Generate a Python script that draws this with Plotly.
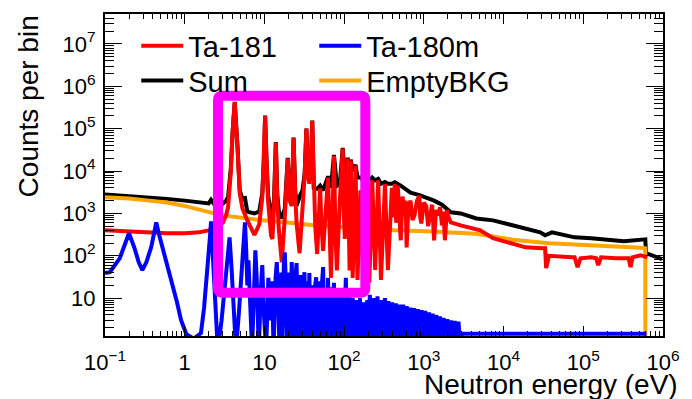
import plotly.graph_objects as go

# ---------------- data ----------------
ta181_e = [0.1, 0.2, 0.36, 0.6, 1.0, 1.5, 2.0, 2.6, 3.0, 3.3, 3.5, 3.78, 4.0, 4.24, 4.6, 4.9, 5.3, 6.1, 7.5,
           8.6, 9.4, 9.9, 10.2, 10.6, 11.1, 12.1, 12.6, 13.2, 13.9, 14.5, 15.2, 16.5, 18, 19.6, 20.7, 22, 23.2,
           24.3, 25.3, 27.6, 30, 32, 33.6, 35, 36.6, 38.5, 39.8, 41.5, 43.4, 45.9, 50, 52, 54.5, 58, 62.8, 66,
           68.4, 71, 74.5, 78, 81.1, 88.3, 96, 99, 102, 111, 117, 121, 124, 128, 139, 147, 160, 174, 190, 207,
           225, 245, 267, 290, 325, 354, 397, 420, 432, 450, 471, 490, 513, 540, 574, 590, 608, 640, 681, 720,
           763, 820, 879, 900, 930, 1000, 1072, 1130, 1200, 1270, 1345, 1420, 1507, 1600, 1688, 1760, 1838,
           1945, 2050, 2180, 2893, 5110, 7380, 11960, 18850, 30500, 33200, 34200, 37200, 71500,
           77800, 84800, 92300, 126000, 145000, 154000, 167000, 256000, 370000, 392000, 415000, 521000, 635000]
ta181_c = [400, 370, 350, 338, 340, 357, 398, 480, 600, 900, 1400, 9000, 90000, 420000, 35000, 3000, 1300, 680, 310,
           550, 2400, 20000, 200000, 20000, 2000, 300, 250, 1500, 47000, 2000, 400, 70, 800, 19700, 2000, 1500, 61000,
           3000, 600, 115, 900, 8000, 100000, 8000, 5000, 20000, 154000, 3000, 500, 110, 3900, 500, 130, 800, 7000, 300,
           30, 500, 23000, 300, 45, 2000, 34000, 1000, 250, 19700, 45, 17700, 300, 30, 13500, 27, 3500, 27, 7800, 23,
           6000, 46, 6000, 27, 5000, 46, 4000, 800, 5000, 600, 4500, 1200, 232, 2500, 900, 2000, 158, 1500, 2000, 700,
           900, 2000, 2600, 800, 580, 1800, 1500, 500, 900, 1600, 232, 1200, 900, 1400, 520, 1100, 232,
           1200, 800, 614, 520, 398, 260, 197, 158, 150, 150, 51, 100, 92,
           92, 54, 87, 92, 87, 60, 92, 87, 87, 54, 92, 103, 92]

ta180m_e = [0.1, 0.115, 0.153, 0.175, 0.2, 0.235, 0.265, 0.294, 0.33, 0.38, 0.42, 0.44, 0.47, 0.52, 0.58, 0.7, 0.8,
            0.9, 1.05, 1.3, 1.6, 1.75, 1.9, 2.0, 2.08, 2.14, 2.2, 2.3, 2.45, 2.6, 2.9, 3.2, 3.45, 3.65, 3.85, 4.1,
            4.4, 4.8, 5.2, 5.5, 5.7, 5.9, 6.1, 6.3, 6.6, 7.0, 7.5, 7.7, 8.0, 8.5, 9.0, 9.4, 9.8, 10.5, 11.2, 11.8,
            12.5, 13, 13.8, 14.3, 14.8, 15.5, 16.3, 16.8, 17.5, 18, 18.6, 19.4, 20.3, 21, 22, 22.8, 23.6, 24.5,
            25.3, 26.2, 27.2, 28.5, 29.5, 30.8, 31.8, 33, 34.5, 35.5, 36.6, 38, 39.5, 41, 42.5, 44.6, 46.5, 48.5,
            50.5, 52.5, 54.5, 56.5, 58.5, 60.5, 62.8, 65, 67.5, 70, 72.5, 74.5, 77, 80, 83, 87, 91, 95, 99, 105,
            110, 116, 122, 128, 135, 142, 150, 158, 166, 175, 185, 195,
            200, 210, 222, 235, 248, 262, 277, 292, 308, 325, 342, 360, 380, 400, 422, 445, 470, 495, 522, 550,
            580, 610, 645, 680, 717, 755, 797, 840, 887, 935, 987, 1040, 1100, 1160, 1225, 1290, 1360, 1430,
            1510, 1590, 1680, 1770, 1870, 1970, 2080, 2190, 2310, 2440, 2580, 2720, 2870, 3000, 620000]
ta180m_c = [39, 41, 87, 180, 340, 150, 70, 46, 70, 160, 400, 610, 350, 170, 92, 25, 8,
            3, 1.4, 1.1, 1.5, 6, 30, 100, 300, 650, 200, 25, 3, 0.6, 3, 20, 80, 270, 60, 5,
            0.6, 5, 60, 300, 614, 150, 20, 78, 10, 0.6, 30, 135, 30, 0.6, 15, 60, 5, 0.6, 30, 3,
            25, 0.6, 30, 71, 10, 0.6, 40, 0.6, 60, 120, 20, 0.6, 40, 0.6, 71, 3, 0.6, 30,
            67, 3, 0.6, 35, 0.6, 20, 41, 0.6, 25, 0.6, 39, 0.6, 20, 0.6, 15, 31, 0.6, 25,
            0.6, 20, 54, 0.6, 15, 0.6, 30, 0.6, 18, 0.6, 15, 23, 0.6, 12, 0.6, 15, 0.6, 12, 0.6, 30,
            0.6, 12, 0.6, 10, 0.6, 9, 0.6, 10, 0.6, 8, 0.6, 9,
            0.6, 12, 0.6, 10, 0.6, 11, 0.6, 9, 0.6, 10, 0.6, 8.5, 0.6, 8, 0.6, 7.5, 0.6, 7, 0.6, 7,
            0.6, 6.5, 0.6, 6, 0.6, 5.8, 0.6, 5.5, 0.6, 5.2, 0.6, 5, 0.6, 4.6, 0.6, 4.3, 0.6, 4,
            0.6, 3.7, 0.6, 3.4, 0.6, 3.2, 0.6, 3, 0.6, 2.9, 0.6, 2.8, 0.6, 1.45, 1.45]

sum_e = [0.1, 0.2, 0.36, 0.6, 1.0, 1.48, 2.0, 2.14, 2.4, 2.8, 3.3, 3.5, 3.78, 4.0, 4.24, 4.6, 4.9, 5.3, 5.7, 6.1,
         7.5, 8.6, 9.4, 9.9, 10.2, 10.6, 11.1, 12.1, 12.6, 13.2, 13.9, 14.5, 15.2, 16.5, 18, 19.6, 20.7, 22, 23.2,
         24.3, 25.3, 27.6, 30, 32, 33.6, 35, 36.6, 38.5, 39.8, 41.5, 43.4, 45.9, 50, 54.5, 62.8, 68.4, 74.5, 81.1,
         88.3, 96, 102, 111, 117, 121, 128, 139, 147, 160, 174, 190, 207, 225, 245, 267, 290, 325, 354, 397, 432,
         513, 608, 681, 879, 1072, 1345, 1688, 1945, 2180, 2893, 4560, 7380, 13000, 18850, 28840, 33200, 40500,
         77800, 126000, 322000, 567000, 600000, 612000, 973000]
sum_c = [2800, 2600, 2380, 2200, 2000, 1810, 1720, 2100, 1550, 1500, 2000, 2400, 11000, 91000, 430000, 36000, 3500,
         2200, 2300, 1100, 1000, 1100, 3000, 21000, 205000, 21000, 2800, 900, 800, 2200, 48000, 2800, 1100, 760,
         1300, 20500, 2800, 2200, 62000, 3600, 1500, 2500, 3480, 9000, 101000, 9000, 6000, 21000, 155000, 4000,
         3800, 3800, 4500, 3500, 7500, 4000, 24000, 4500, 5000, 35000, 6000, 20500, 9000, 18500, 10000, 14000,
         7000, 7000, 6000, 8000, 6000, 7000, 6000, 6500, 5000, 5500, 5000, 5000, 5400, 4500, 3500, 3100, 2700,
         2380, 2000, 1600, 1310, 1060, 1000, 760, 684, 520, 444, 357, 304, 357, 272, 258, 219, 244, 244, 115, 83]

bkg_e = [0.1, 0.2, 0.36, 0.6, 1.0, 1.48, 2.0, 2.61, 3.78, 6.1, 10.2, 20.7, 44.6, 105, 225, 432, 1072, 1945, 4560,
         7380, 13000, 37200, 126000, 322000, 521000, 600000, 601000]
bkg_c = [2400, 2250, 2000, 1800, 1500, 1250, 1100, 950, 850, 750, 680, 600, 520, 470, 420, 398, 380, 357, 330,
         285, 240, 197, 180, 165, 155, 150, 0.5]

x_tick_vals = [0.1, 1, 10, 100, 1e3, 1e4, 1e5, 1e6]
x_tick_text = ["10<sup>\u22121</sup>", "1", "10", "10<sup>2</sup>", "10<sup>3</sup>", "10<sup>4</sup>",
               "10<sup>5</sup>", "10<sup>6</sup>"]
y_tick_vals = [10, 100, 1e3, 1e4, 1e5, 1e6, 1e7]
y_tick_text = ["10", "10<sup>2</sup>", "10<sup>3</sup>", "10<sup>4</sup>", "10<sup>5</sup>", "10<sup>6</sup>",
               "10<sup>7</sup>"]

x_minor = [k * 10 ** d for d in range(-1, 6) for k in range(2, 10)]
y_minor = [k * 10 ** d for d in range(0, 8) for k in range(2, 10)]

FONT = "Liberation Sans, Arial, sans-serif"
LW = 4

fig = go.Figure()
fig.add_trace(go.Scatter(x=sum_e, y=sum_c, mode="lines", name="Sum", line=dict(color="black", width=LW),
                         legend="legend3", showlegend=True))
fig.add_trace(go.Scatter(x=bkg_e, y=bkg_c, mode="lines", name="EmptyBKG", line=dict(color="#ffa500", width=LW),
                         legend="legend4", showlegend=True))
fig.add_trace(go.Scatter(x=ta181_e, y=ta181_c, mode="lines", name="Ta-181", line=dict(color="#ff0000", width=LW),
                         legend="legend", showlegend=True))
fig.add_trace(go.Scatter(x=ta180m_e, y=ta180m_c, mode="lines", name="Ta-180m",
                         line=dict(color="#0000ff", width=LW), legend="legend2", showlegend=True))

# rounded magenta box (paper coordinates)
L, R, T, B = 0.2025, 0.4665, 0.7461, 0.1347
rx, ry = 0.007, 0.0124
path = (f"M {L+rx},{T} L {R-rx},{T} Q {R},{T} {R},{T-ry} L {R},{B+ry} Q {R},{B} {R-rx},{B} "
        f"L {L+rx},{B} Q {L},{B} {L},{B+ry} L {L},{T-ry} Q {L},{T} {L+rx},{T} Z")
fig.add_shape(type="path", path=path, xref="paper", yref="paper", line=dict(color="#ff00ff", width=10),
              layer="above")

leg_common = dict(bgcolor="rgba(0,0,0,0)", borderwidth=0, font=dict(family=FONT, size=29, color="black"),
                  itemwidth=42, xanchor="left", yanchor="middle", tracegroupgap=0, visible=True)

axis_common = dict(type="log", showgrid=False, zeroline=False, showline=True, linecolor="black", linewidth=2,
                   mirror="allticks", ticks="inside", tickcolor="black", tickmode="array",
                   tickfont=dict(family=FONT, size=22, color="black"))

fig.update_layout(
    width=692, height=399,
    margin=dict(l=105, r=19, t=13, b=63),
    paper_bgcolor="white", plot_bgcolor="white",
    showlegend=True,
    font=dict(family=FONT, color="black"),
    xaxis=dict(axis_common, range=[-1, 6], tickvals=x_tick_vals, ticktext=x_tick_text, ticklen=10,
               ticklabelstandoff=6,
               minor=dict(tickvals=x_minor, ticks="inside", ticklen=5, tickcolor="black", showgrid=False)),
    yaxis=dict(axis_common, range=[0.106, 7.706], tickvals=y_tick_vals, ticktext=y_tick_text, ticklen=17,
               ticklabelstandoff=3,
               minor=dict(tickvals=y_minor, ticks="inside", ticklen=9, tickcolor="black", showgrid=False)),
    legend=dict(leg_common, x=0.056, y=0.901),
    legend2=dict(leg_common, x=0.375, y=0.901),
    legend3=dict(leg_common, x=0.056, y=0.793),
    legend4=dict(leg_common, x=0.375, y=0.793),
    annotations=[
        dict(text="Neutron energy (eV)", xref="paper", yref="paper", x=(690 - 105) / 568, y=(336 - 385) / 323,
             xanchor="right", yanchor="middle", showarrow=False, font=dict(family=FONT, size=28, color="black")),
        dict(text="Counts per bin", xref="paper", yref="paper", x=(27 - 105) / 568, y=(336 - 12) / 323,
             xanchor="center", yanchor="top", textangle=-90, showarrow=False,
             font=dict(family=FONT, size=28, color="black")),
    ],
)

fig.write_html("out.html")
